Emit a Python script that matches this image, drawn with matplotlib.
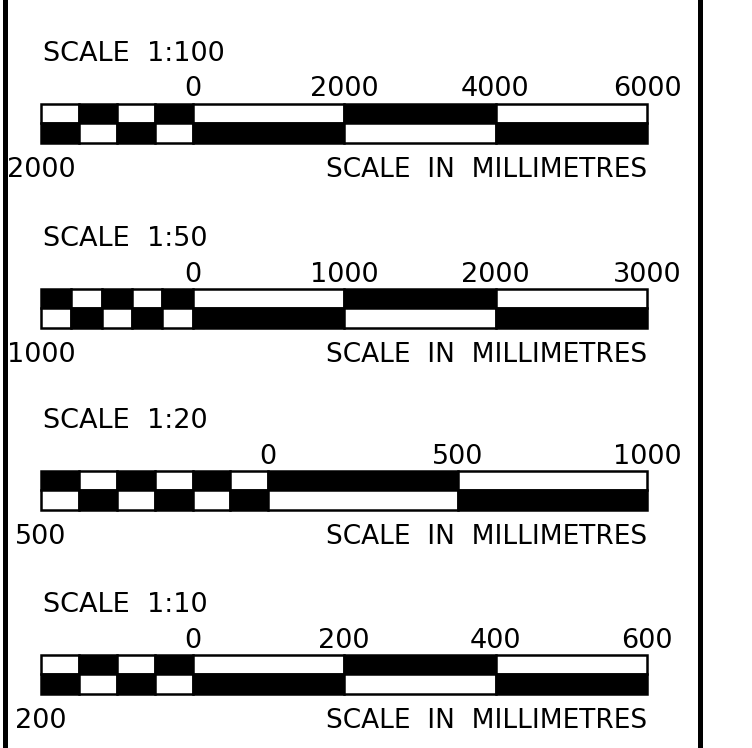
import matplotlib
matplotlib.use("Agg")
import matplotlib.pyplot as plt
from matplotlib.lines import Line2D

# --- data ---
titles = ["SCALE  1:100", "SCALE  1:50", "SCALE  1:20", "SCALE  1:10"]
main_ticks = [[0, 2000, 4000, 6000],
              [0, 1000, 2000, 3000],
              [0, 500, 1000],
              [0, 200, 400, 600]]
left_labels = ["2000", "1000", "500", "200"]
sub_counts = [4, 5, 6, 4]
sub_sizes = [500, 200, 100, 50]
unit_text = "SCALE  IN  MILLIMETRES"

# layout (pixels)
W, H = 752, 748
bar_left, bar_width, bar_height = 41, 606, 38.5
bar_tops = [104, 289, 471, 655]
font = dict(family="DejaVu Sans", fontsize=19.5, color="black")

fig = plt.figure(figsize=(W / 100, H / 100), dpi=100)
fig.patch.set_facecolor("white")

for k in range(len(titles)):
    top = bar_tops[k]
    ax = fig.add_axes([bar_left / W, (H - top - bar_height) / H,
                       bar_width / W, bar_height / H])
    ticks = main_ticks[k]
    left_ext = sub_counts[k] * sub_sizes[k]
    edges = [-left_ext + i * sub_sizes[k] for i in range(sub_counts[k])] + ticks
    ax.set_xlim(-left_ext, ticks[-1])
    ax.set_ylim(0, 2)
    ax.axis("off")

    n = len(edges) - 1
    for i in range(n):
        top_white = (n - 1 - i) % 2 == 0
        for row, white in ((1, top_white), (0, not top_white)):
            ax.bar(edges[i], 1, width=edges[i + 1] - edges[i], bottom=row,
                   align="edge", color="white" if white else "black",
                   edgecolor="black", linewidth=1.8, clip_on=False)

    # title
    ax.annotate(titles[k], xy=(-left_ext, 1), xycoords=("data", "axes fraction"),
                xytext=(1.5, 43 * 0.72), textcoords="offset points",
                ha="left", va="baseline", **font)
    # tick labels
    for t in ticks:
        ax.annotate(str(t), xy=(t, 1), xycoords=("data", "axes fraction"),
                    xytext=(0, 7.5 * 0.72), textcoords="offset points",
                    ha="center", va="baseline", **font)
    # left label and unit caption
    ax.annotate(left_labels[k], xy=(-left_ext, 0), xycoords=("data", "axes fraction"),
                xytext=(0, -34.5 * 0.72), textcoords="offset points",
                ha="center", va="baseline", **font)
    ax.annotate(unit_text, xy=(ticks[-1], 0), xycoords=("data", "axes fraction"),
                xytext=(0, -34.5 * 0.72), textcoords="offset points",
                ha="right", va="baseline",
                family="DejaVu Sans", fontsize=19, color="black")

# frame lines at both sides
for xp in (5, 699.5):
    fig.add_artist(Line2D([xp / W, xp / W], [0, 1], color="black",
                          linewidth=5 * 0.72, transform=fig.transFigure))

fig.savefig("out.png", dpi=100, facecolor="white")
